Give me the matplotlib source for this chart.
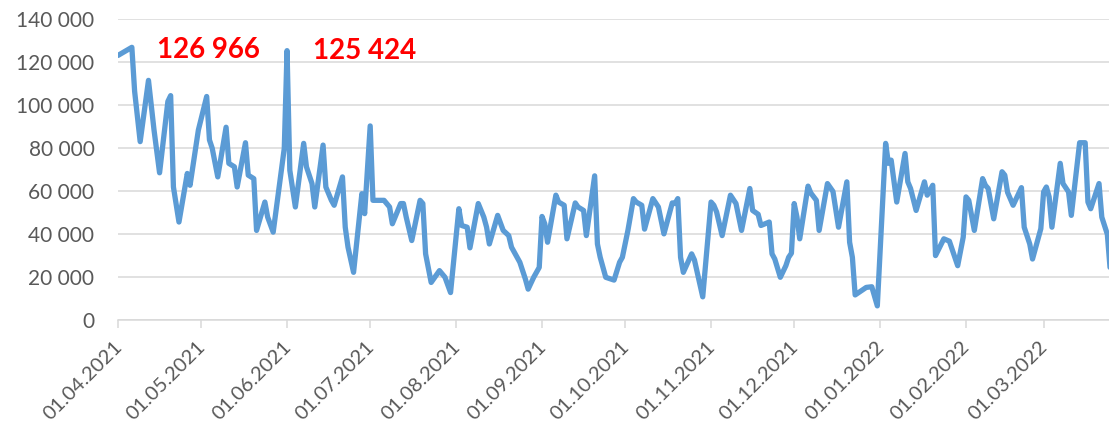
import numpy as np
import pandas as pd
import matplotlib
matplotlib.use("Agg")
import matplotlib.pyplot as plt
import matplotlib.dates as mdates
import matplotlib.transforms as mtransforms
from matplotlib.ticker import FuncFormatter, MultipleLocator

# days after 01.04.2021 and the value at each visible vertex of the line
day_offset = [
    0, 5, 6, 8, 11, 13, 15, 18, 19, 20, 22, 25, 26, 29, 32, 33, 34, 36, 39, 40,
    42, 43, 46, 47, 49, 50, 53, 54, 56, 60, 61, 62, 64, 67, 68, 70, 71, 74, 75, 77,
    78, 81, 82, 83, 85, 88, 89, 91, 92, 96, 98, 99, 102, 103, 104, 106, 109, 110, 111, 113,
    116, 118, 120, 123, 124, 126, 127, 130, 132, 133, 134, 137, 139, 141, 142, 145, 147, 148, 150, 152,
    153, 154, 155, 158, 159, 161, 162, 165, 166, 168, 169, 172, 173, 174, 176, 179, 181, 182, 184, 186,
    187, 189, 190, 193, 195, 197, 200, 201, 202, 203, 204, 207, 208, 211, 214, 215, 216, 218, 221, 223,
    225, 228, 229, 231, 232, 235, 236, 237, 239, 241, 242, 243, 244, 245, 246, 249, 250, 252, 253, 256,
    258, 260, 263, 264, 265, 266, 270, 272, 274, 277, 278, 279, 281, 284, 285, 286, 288, 291, 292, 294,
    295, 298, 300, 303, 305, 306, 307, 309, 312, 313, 314, 316, 319, 320, 321, 323, 326, 327, 329, 330,
    333, 334, 335, 336, 337, 340, 341, 343, 344, 347, 349, 350, 351, 354, 355, 357, 358,
]
values = [
    123200, 126966, 106500, 83100, 111600, 88500, 68600, 101800, 104500, 62000, 45700, 68300, 62800, 88500, 104100, 83900, 80000, 66700, 89800, 73000,
    71400, 62000, 82600, 67500, 65900, 41800, 55000, 48000, 41000, 80000, 125424, 69800, 52700, 82300, 71400, 63600, 52700, 81500, 62000, 55800,
    53500, 66700, 43300, 34000, 22300, 58900, 49600, 90400, 55800, 55800, 52700, 44900, 54300, 54300, 48000, 37100, 55800, 54300, 30900, 17600,
    23100, 20000, 12900, 51900, 44100, 43300, 33700, 54300, 48000, 43300, 35500, 48800, 41800, 39400, 34000, 27000, 19200, 14500, 20000, 24600,
    48300, 44900, 36300, 58200, 55000, 53500, 37900, 54600, 52700, 51100, 39400, 67200, 35500, 29300, 20000, 18700, 27000, 29300, 41800, 56600,
    55000, 53500, 42400, 56600, 52700, 40200, 54600, 54300, 56600, 29300, 22300, 30900, 28100, 10900, 55000, 53500, 50400, 39400, 58200, 54300,
    41800, 61300, 51100, 49300, 44100, 45700, 30900, 28500, 20000, 25400, 29300, 31200, 54300, 48000, 37900, 62400, 59200, 55800, 41800, 63600,
    59900, 43300, 64400, 36300, 29300, 11800, 15300, 15600, 6700, 82300, 73000, 74500, 55000, 77600, 64400, 61300, 51100, 64400, 58200, 62800,
    30100, 37900, 36800, 25400, 38700, 57400, 55800, 41800, 65900, 62800, 61300, 47200, 69100, 67500, 59500, 53500, 61700, 43300, 35500, 28500,
    42600, 59700, 62000, 57400, 43300, 73000, 63600, 59700, 48800, 82600, 82600, 55000, 51900, 63600, 48000, 40000, 24000,
]

# peaks written in red on the chart: (days after start, value)
peak_days = [5, 61]
peak_values = [126966, 125424]

start = pd.Timestamp("2021-04-01")
dates = start + pd.to_timedelta(day_offset, unit="D")

plt.rcParams["font.family"] = ["Lato", "DejaVu Sans"]

fig = plt.figure(figsize=(11.09, 4.28), dpi=100)
ax = fig.add_axes([118 / 1109, 1 - 320.3 / 428, 991 / 1109, 301 / 428])

ax.plot(dates, values, color="#5B9BD5", lw=3.8,
        solid_joinstyle="round", solid_capstyle="round", zorder=3)

ax.set_ylim(0, 140000)
ax.set_xlim(start, start + pd.Timedelta(days=357.6))
ax.yaxis.set_major_locator(MultipleLocator(20000))
ax.yaxis.set_major_formatter(FuncFormatter(lambda v, p: f"{int(v):,}".replace(",", " ")))

month_starts = pd.date_range("2021-04-01", "2022-03-01", freq="MS")
ax.set_xticks(month_starts)
ax.xaxis.set_major_formatter(mdates.DateFormatter("%d.%m.%Y"))

ax.grid(axis="y", color="#D9D9D9", lw=1.1)
ax.set_axisbelow(True)
for s in ["top", "right", "left"]:
    ax.spines[s].set_visible(False)
ax.spines["bottom"].set_color("#D9D9D9")
ax.spines["bottom"].set_linewidth(1.1)

ax.tick_params(axis="y", length=0, pad=17, labelsize=15, labelcolor="#595959")
ax.tick_params(axis="x", length=6, width=1.1, color="#D9D9D9", pad=4,
               labelsize=14.5, labelcolor="#595959")
shift = mtransforms.ScaledTranslation(-5 / 100, -4 / 100, fig.dpi_scale_trans)
for lbl in ax.get_xticklabels():
    lbl.set_rotation(45)
    lbl.set_ha("right")
    lbl.set_va("top")
    lbl.set_rotation_mode("anchor")
    lbl.set_transform(lbl.get_transform() + shift)

# red labels for the two peaks
label_pos = [(14.1, 125800), (70.2, 125200)]
for (d, y), v in zip(label_pos, peak_values):
    ax.text(start + pd.Timedelta(days=d), y, f"{v:,}".replace(",", " "),
            color="#FF0000", fontsize=20, fontweight="bold", ha="left", va="center")

fig.savefig("out.png", dpi=100)
